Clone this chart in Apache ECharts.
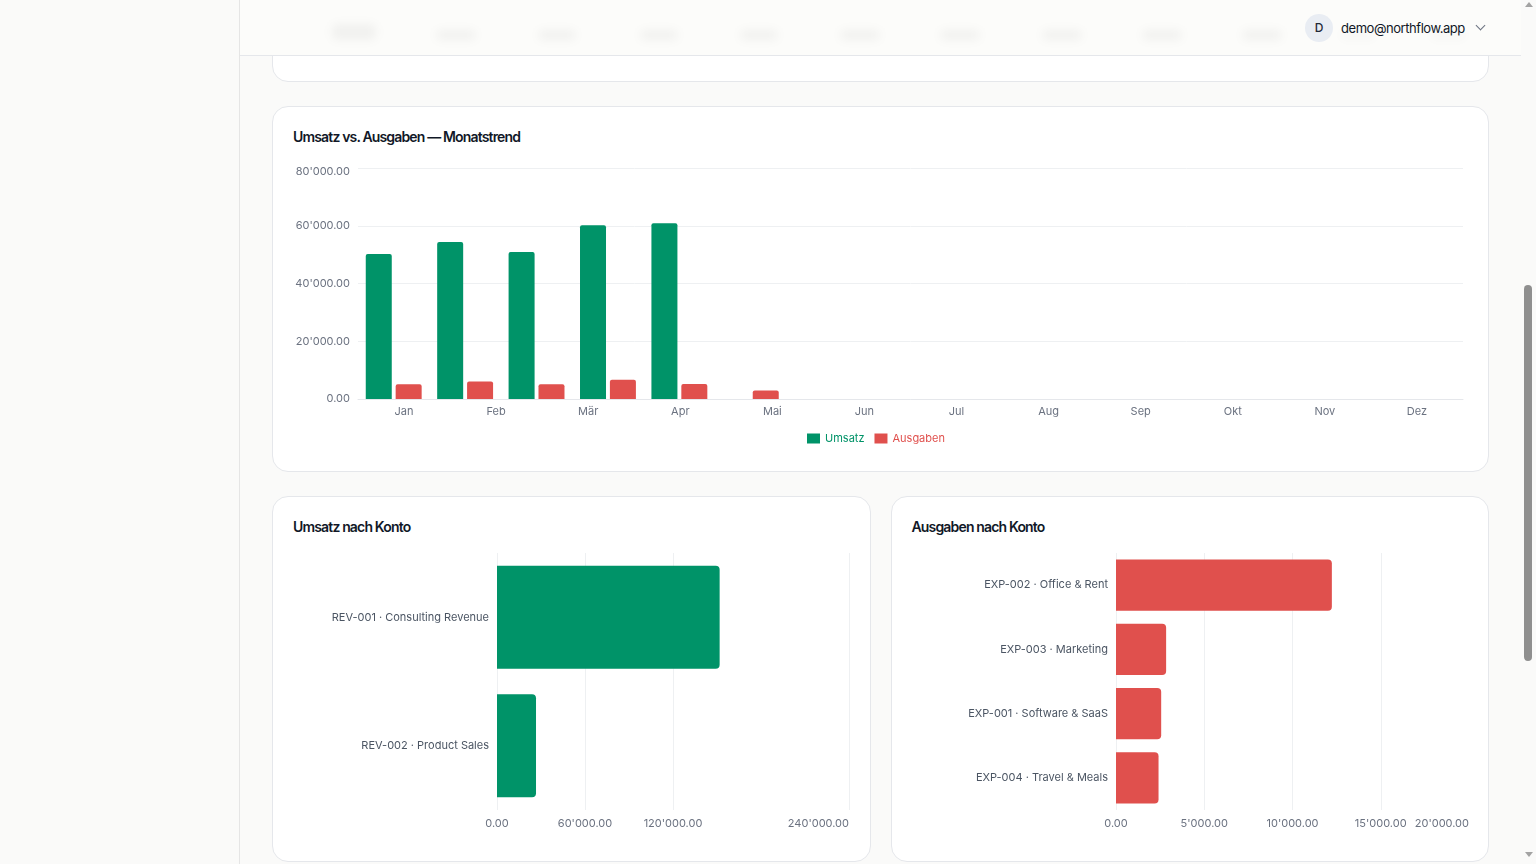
<!DOCTYPE html>
<html lang="de">
<head>
<meta charset="utf-8">
<title>Dashboard</title>
<script src="https://cdn.jsdelivr.net/npm/echarts@6/dist/echarts.min.js"></script>
<style>
  html, body { margin: 0; padding: 0; }
  body {
    width: 1536px; height: 864px; overflow: hidden; position: relative;
    background: #fafaf9; font-family: Inter, 'Noto Sans', sans-serif;
  }
  .sidebar { position: absolute; left: 0; top: 0; width: 239px; height: 864px; background: #fafaf9; border-right: 1px solid #e5e5e5; }
  .header {
    position: absolute; left: 240px; top: 0; width: 1281px; height: 55px;
    background: #fcfcfa; border-bottom: 1px solid #e5e7eb; z-index: 5;
  }
  .blob { position: absolute; top: 30px; height: 10px; border-radius: 5px; background: rgba(0,0,0,0.045); filter: blur(5px); }
  .avatar {
    position: absolute; left: 1065px; top: 14px; width: 28px; height: 28px; border-radius: 50%;
    background: #e9edf3; color: #1f2937; font-size: 12px; font-weight: 500; line-height: 28px; text-align: center;
  }
  .user { position: absolute; left: 1101px; top: 19px; font-size: 13px; line-height: 18px; font-weight: 400; letter-spacing: -0.45px; color: #111827; }
  .chev {
    position: absolute; left: 1237px; top: 22px; width: 6px; height: 6px;
    border-right: 1.3px solid #6b7280; border-bottom: 1.3px solid #6b7280; transform: rotate(45deg);
  }
  .card { position: absolute; box-sizing: border-box; background: #fff; border: 1px solid #e5e7eb; border-radius: 16px; }
  .card h3 {
    margin: 0; position: absolute; left: 20px; top: 20px; font-size: 14px; line-height: 20px;
    font-weight: 600; letter-spacing: -0.06em; color: #111827; white-space: nowrap;
  }
  .chart { position: absolute; z-index: 2; }
  .scroll { position: absolute; left: 1521px; top: 0; width: 15px; height: 864px; background: #fafaf9; z-index: 6; }
  .thumb { position: absolute; left: 3px; top: 285px; width: 8px; height: 376px; border-radius: 4px; background: #8f8f8f; }
  .arr { position: absolute; left: 4px; width: 0; height: 0; border-left: 4px solid transparent; border-right: 4px solid transparent; }
  .arr.up { top: 2px; border-bottom: 5px solid #a3a3a3; }
  .arr.down { top: 852px; border-top: 5px solid #a3a3a3; }
</style>
</head>
<body>
<div class="sidebar"></div>
<div class="header">
  <div class="blob" style="left:92px;width:44px;top:24px;height:16px"></div>
  <div class="blob" style="left:196px;width:40px"></div>
  <div class="blob" style="left:298px;width:38px"></div>
  <div class="blob" style="left:400px;width:38px"></div>
  <div class="blob" style="left:500px;width:38px"></div>
  <div class="blob" style="left:600px;width:40px"></div>
  <div class="blob" style="left:700px;width:40px"></div>
  <div class="blob" style="left:802px;width:40px"></div>
  <div class="blob" style="left:902px;width:40px"></div>
  <div class="blob" style="left:1002px;width:40px"></div>
  <div class="blob" style="left:1100px;width:36px;opacity:.5"></div>
  <div class="blob" style="left:1190px;width:36px;opacity:.5"></div>
  <div class="avatar">D</div>
  <div class="user">demo@northflow.app</div>
  <div class="chev"></div>
</div>

<div class="card" style="left:272px;top:-40px;width:1217px;height:122px"></div>
<div class="card" style="left:272px;top:106px;width:1217px;height:366px"><h3>Umsatz vs. Ausgaben — Monatstrend</h3></div>
<div class="card" style="left:272px;top:496px;width:598.5px;height:366px"><h3>Umsatz nach Konto</h3></div>
<div class="card" style="left:890.5px;top:496px;width:598.5px;height:366px"><h3>Ausgaben nach Konto</h3></div>

<div class="chart" id="trend" style="left:293px;top:150px;width:1175px;height:301px"></div>
<div class="chart" id="revenue" style="left:293px;top:540px;width:556.5px;height:300px"></div>
<div class="chart" id="expenses" style="left:911.5px;top:540px;width:556.5px;height:300px"></div>

<div class="scroll"><div class="arr up"></div><div class="thumb"></div><div class="arr down"></div></div>

<script>
// Monatstrend
const months = ['Jan', 'Feb', 'Mär', 'Apr', 'Mai', 'Jun', 'Jul', 'Aug', 'Sep', 'Okt', 'Nov', 'Dez']
const barSlots = ['P1', 'P2', 'P3', 'P4', 'P5', 'P6']
const umsatz = [50200, 54400, 50900, 60200, 60900, 0]
const ausgaben = [5100, 6100, 5100, 6700, 5200, 2950]

// Umsatz nach Konto
const revenueAccounts = ['REV-001 · Consulting Revenue', 'REV-002 · Product Sales']
const revenueValues = [151800, 26600]
const revenueTicks = [0, 60000, 120000, 240000]

// Ausgaben nach Konto
const expenseAccounts = ['EXP-002 · Office & Rent', 'EXP-003 · Marketing', 'EXP-001 · Software & SaaS', 'EXP-004 · Travel & Meals']
const expenseValues = [12230, 2840, 2560, 2410]
const expenseTicks = [0, 5000, 10000, 15000, 20000]

const GREEN = '#009368'
const RED = '#e0504d'
const LABEL = '#6b7280'
const SPLIT = '#eef0f2'

// 80'000.00
function fmt (v) {
  const parts = Math.abs(v).toFixed(2).split('.')
  return (v < 0 ? '-' : '') + parts[0].replace(/\B(?=(\d{3})+(?!\d))/g, "'") + '.' + parts[1]
}

const trendChart = echarts.init(document.getElementById('trend'))
trendChart.setOption({
  animation: false,
  textStyle: { fontFamily: 'Inter' },
  legend: {
    top: 278,
    left: 509,
    icon: 'rect',
    itemWidth: 13,
    itemHeight: 10,
    itemGap: 10,
    textStyle: { fontSize: 11 },
    data: [
      { name: 'Umsatz', textStyle: { color: GREEN } },
      { name: 'Ausgaben', textStyle: { color: RED } }
    ]
  },
  grid: [
    { left: 65, top: 18, width: 1105, height: 231, outerBoundsMode: 'none' },
    { left: 65, top: 18, width: 428.5, height: 231, outerBoundsMode: 'none' }
  ],
  xAxis: [
    {
      type: 'category',
      gridIndex: 0,
      data: months,
      axisLine: { lineStyle: { color: '#e5e7eb' } },
      axisTick: { show: false },
      axisLabel: { color: LABEL, fontSize: 11, margin: 7 }
    },
    { type: 'category', gridIndex: 1, data: barSlots, show: false }
  ],
  yAxis: [
    {
      type: 'value',
      gridIndex: 0,
      min: 0,
      max: 80000,
      interval: 20000,
      axisLabel: {
        color: LABEL,
        fontSize: 11,
        // top label sits a little lower, as in the dashboard
        formatter: v => v === 80000 ? '{top|' + fmt(v) + '}' : fmt(v),
        rich: { top: { fontSize: 11, color: LABEL, padding: [7, 0, 0, 0] } }
      },
      splitLine: { lineStyle: { color: SPLIT } }
    },
    { type: 'value', gridIndex: 1, min: 0, max: 80000, show: false }
  ],
  series: [
    {
      name: 'Umsatz',
      type: 'bar',
      xAxisIndex: 1,
      yAxisIndex: 1,
      barWidth: 26,
      barGap: '15%',
      itemStyle: { color: GREEN, borderRadius: [2, 2, 0, 0] },
      data: umsatz
    },
    {
      name: 'Ausgaben',
      type: 'bar',
      xAxisIndex: 1,
      yAxisIndex: 1,
      barWidth: 26,
      barGap: '15%',
      itemStyle: { color: RED, borderRadius: [2, 2, 0, 0] },
      data: ausgaben
    }
  ]
})

function accountOption (accounts, values, color, ticks, right) {
  return {
    animation: false,
    textStyle: { fontFamily: 'Inter' },
    grid: { left: 204, right: right, top: 13, height: 257, outerBoundsMode: 'none' },
    xAxis: {
      type: 'value',
      min: 0,
      max: ticks[ticks.length - 1],
      axisTick: { show: false, customValues: ticks },
      axisLabel: {
        color: LABEL,
        fontSize: 11,
        formatter: fmt,
        margin: 8,
        customValues: ticks,
        alignMaxLabel: 'right'
      },
      splitLine: { lineStyle: { color: SPLIT } }
    },
    yAxis: {
      type: 'category',
      inverse: true,
      data: accounts,
      axisLine: { show: false },
      axisTick: { show: false },
      axisLabel: { color: '#4b5563', fontSize: 11 }
    },
    series: [{
      type: 'bar',
      barCategoryGap: '20%',
      itemStyle: { color: color, borderRadius: [0, 4, 4, 0] },
      data: values
    }]
  }
}

echarts.init(document.getElementById('revenue')).setOption(accountOption(revenueAccounts, revenueValues, GREEN, revenueTicks, 1))
echarts.init(document.getElementById('expenses')).setOption(accountOption(expenseAccounts, expenseValues, RED, expenseTicks, 0))
</script>
</body>
</html>
